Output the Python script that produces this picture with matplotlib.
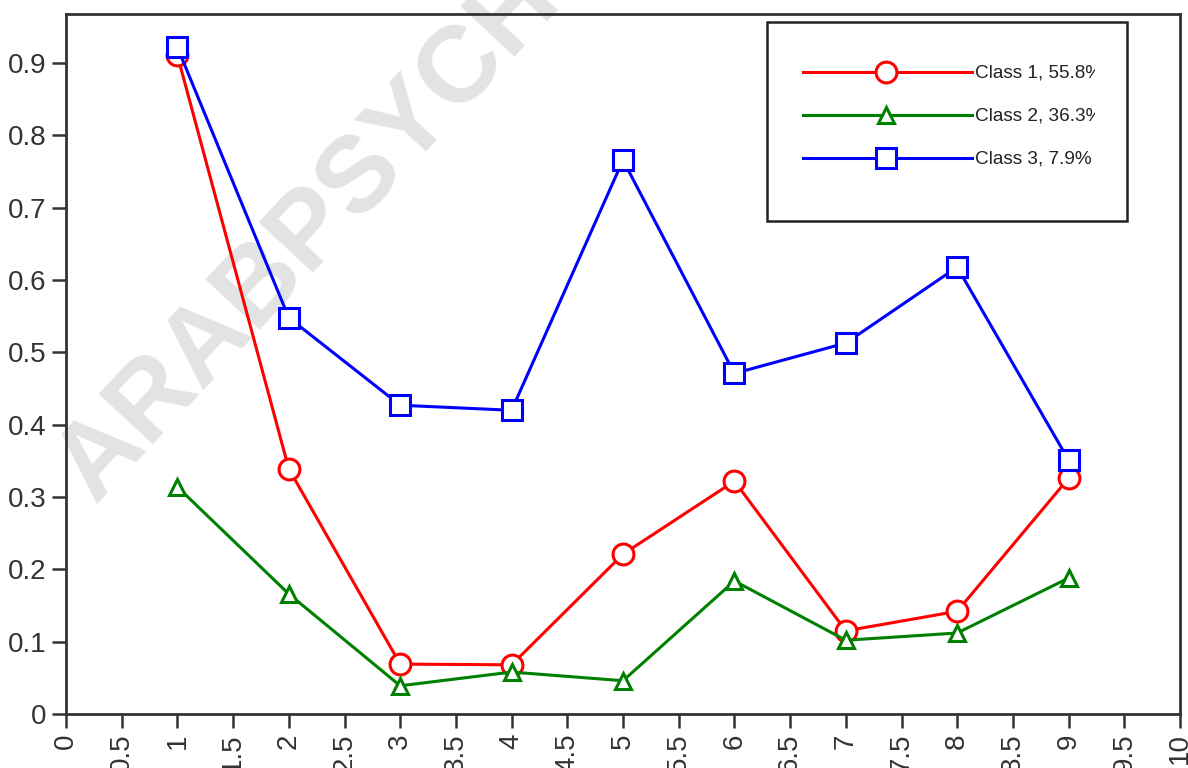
import matplotlib
matplotlib.use("Agg")
import matplotlib.pyplot as plt
from matplotlib.patches import Rectangle
from matplotlib.lines import Line2D

plt.rcParams['font.family'] = ['Liberation Sans', 'DejaVu Sans']

x = [1, 2, 3, 4, 5, 6, 7, 8, 9]
class1 = [0.911, 0.339, 0.069, 0.068, 0.221, 0.322, 0.115, 0.142, 0.326]
class2 = [0.314, 0.166, 0.039, 0.058, 0.046, 0.184, 0.102, 0.112, 0.188]
class3 = [0.922, 0.548, 0.427, 0.420, 0.766, 0.471, 0.513, 0.618, 0.351]
labels = ["Class 1, 55.8%", "Class 2, 36.3%", "Class 3, 7.9%"]
xticks = [0, 0.5, 1, 1.5, 2, 2.5, 3, 3.5, 4, 4.5, 5, 5.5, 6, 6.5, 7, 7.5, 8, 8.5, 9, 9.5, 10]
xticklabels = ["0", "0.5", "1", "1.5", "2", "2.5", "3", "3.5", "4", "4.5", "5", "5.5",
               "6", "6.5", "7", "7.5", "8", "8.5", "9", "9.5", "10"]
yticks = [0, 0.1, 0.2, 0.3, 0.4, 0.5, 0.6, 0.7, 0.8, 0.9]
yticklabels = ["0", "0.1", "0.2", "0.3", "0.4", "0.5", "0.6", "0.7", "0.8", "0.9"]

W, H = 1188, 768
fig = plt.figure(figsize=(W / 100, H / 100), dpi=100)
ax = fig.add_axes([66 / W, 1 - 714 / H, (1180 - 66) / W, (714 - 14) / H])

styles = [
    dict(color='#ff0000', marker='o', ms=15),
    dict(color='#008000', marker='^', ms=12),
    dict(color='#0000ff', marker='s', ms=15),
]
series = [class1, class2, class3]
for ys, st in zip(series, styles):
    ax.plot(x, ys, color=st['color'], lw=2.2, marker=st['marker'], ms=st['ms'],
            mfc='white', mec=st['color'], mew=2.2, zorder=3)

ax.set_xlim(0, 10)
ax.set_ylim(0, 0.968)
ax.set_xticks(xticks)
ax.set_xticklabels(xticklabels, rotation=90, va='top')
ax.set_yticks(yticks)
ax.set_yticklabels(yticklabels)
ax.tick_params(axis='both', direction='out', length=10, width=1.8, color='#333333',
               labelsize=20, labelcolor='#333333', pad=4)
for s in ax.spines.values():
    s.set_linewidth(2)
    s.set_color('#333333')

# watermark
ax.text(0.026, 0.30, "ARABPSYCH", transform=ax.transAxes, rotation=47,
        rotation_mode='anchor', fontsize=78, fontweight='bold', color='#e3e3e3',
        ha='left', va='baseline', zorder=1, clip_on=False)

# legend box drawn manually in figure pixels
def fx(px):
    return px / W

def fy(py):
    return 1 - py / H

rect = Rectangle((fx(767), fy(221)), fx(1127) - fx(767), fy(22) - fy(221),
                 transform=fig.transFigure, facecolor='white', edgecolor='#222222',
                 lw=1.8, zorder=5)
fig.patches.append(rect)
clip = Rectangle((fx(767), fy(221)), fx(1095) - fx(767), fy(22) - fy(221),
                 transform=fig.transFigure, facecolor='none', edgecolor='none')
fig.patches.append(clip)
rows = [72, 115, 158]
for lab, st, ry in zip(labels, styles, rows):
    fig.add_artist(Line2D([fx(803), fx(972)], [fy(ry), fy(ry)], transform=fig.transFigure,
                          color=st['color'], lw=2.2, zorder=6))
    fig.add_artist(Line2D([fx(886)], [fy(ry)], transform=fig.transFigure,
                          color=st['color'], marker=st['marker'], ms=st['ms'],
                          mfc='white', mec=st['color'], mew=2.2, zorder=7))
    t = fig.text(fx(975), fy(ry + 1), lab, fontsize=13.7, color='#222222', va='center',
                 ha='left', zorder=8)
    t.set_clip_path(clip)

fig.savefig("out.png", dpi=100)
